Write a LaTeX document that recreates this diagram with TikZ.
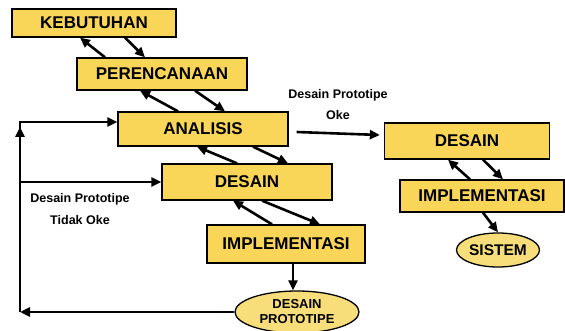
\documentclass[tikz,border=0pt]{standalone}
\usepackage{fontspec}
\setmainfont{Liberation Sans}
\usetikzlibrary{arrows.meta,shapes.geometric,calc}

\definecolor{boxyellow}{RGB}{249,214,88}
\definecolor{ovalyellow}{RGB}{247,222,122}

\tikzset{
  tahap/.style={draw=black, line width=1.3pt, fill=boxyellow, inner sep=0pt, font=\fontsize{17}{19}\selectfont\bfseries},
  oval/.style={ellipse, draw=black, line width=1.3pt, fill=ovalyellow, inner sep=0pt, align=center},
  panah/.style={line width=2.6pt, -{Triangle[length=10pt,width=9pt]}},
  ket/.style={font=\fontsize{12.5}{13}\selectfont\bfseries, align=center}
}

\begin{document}
\begin{tikzpicture}[x=1pt,y=1pt,yscale=-1]
\path[use as bounding box] (0,0) rectangle (565,331);

%Shape: Rectangle (left column)
\node[tahap, minimum width=164pt, minimum height=28pt] (keb) at (94,23) {KEBUTUHAN};
\node[tahap, minimum width=170pt, minimum height=32pt] (per) at (162,74) {PERENCANAAN};
\node[tahap, minimum width=170pt, minimum height=34pt] (ana) at (203,129) {ANALISIS};
\node[tahap, minimum width=170pt, minimum height=36pt] (desL) at (247,182) {DESAIN};
\node[tahap, minimum width=158pt, minimum height=38pt] (impL) at (286,244) {IMPLEMENTASI};
%Shape: Ellipse
\node[oval, minimum width=124pt, minimum height=42pt, font=\fontsize{13}{15}\selectfont\bfseries] (proto) at (297,312) {DESAIN\\PROTOTIPE};

%Shape: Rectangle (right column)
\node[tahap, minimum width=165pt, minimum height=36pt] (desR) at (467,141) {DESAIN};
\node[tahap, minimum width=164pt, minimum height=32pt] (impR) at (482,196) {IMPLEMENTASI};
%Shape: Ellipse
\node[oval, minimum width=83pt, minimum height=34pt, font=\fontsize{15.5}{17}\selectfont\bfseries] (sis) at (498,250) {SISTEM};

%Straight Lines (back and forth between stages)
\draw[panah] ([xshift=-57pt]per.north) -- ([xshift=-14pt]keb.south);
\draw[panah] ([xshift=31pt]keb.south) -- ([xshift=-17pt]per.north);
\draw[panah] ([xshift=-25pt]ana.north) -- ([xshift=-22pt]per.south);
\draw[panah] ([xshift=33pt]per.south) -- ([xshift=22pt]ana.north);
\draw[panah] ([xshift=-10pt]desL.north) -- ([xshift=-6pt]ana.south);
\draw[panah] ([xshift=50pt]ana.south) -- ([xshift=41pt]desL.north);
\draw[panah] ([xshift=-14pt]impL.north) -- ([xshift=-14pt]desL.south);
\draw[panah] ([xshift=15pt]desL.south) -- ([xshift=34pt]impL.north);
\draw[panah] ([xshift=7pt]impL.south) -- ([xshift=-4pt]proto.north);

\draw[panah] ([xshift=-12pt]impR.north) -- ([xshift=-19pt]desR.south);
\draw[panah] ([xshift=16pt]desR.south) -- ([xshift=21pt]impR.north);
\draw[panah] ([xshift=1pt]impR.south) -- (sis.north);

%Straight Lines (feedback loop)
\coordinate (kb) at (20,312);
\coordinate (ka) at (20,122);
\draw[panah] (proto.west) -- (kb);
\draw[panah] (kb) -- (ka) -- (ka -| ana.west);
\draw[panah] (kb) -- ($(ka)+(0,5)$);
\draw[panah] (kb |- desL.west) -- (desL.west);

%Straight Lines (prototype ok)
\draw[panah] ($(ana.east)+(8,3)$) -- ($(desR.west)+(-4,-6)$);

% Text Node
\node[ket] (ok) at (338,105) {Desain Prototipe\\[8pt]Oke};
% Text Node
\node[ket] (tidakOk) at (80,209) {Desain Prototipe\\[9pt]Tidak Oke};

\end{tikzpicture}
\end{document}
